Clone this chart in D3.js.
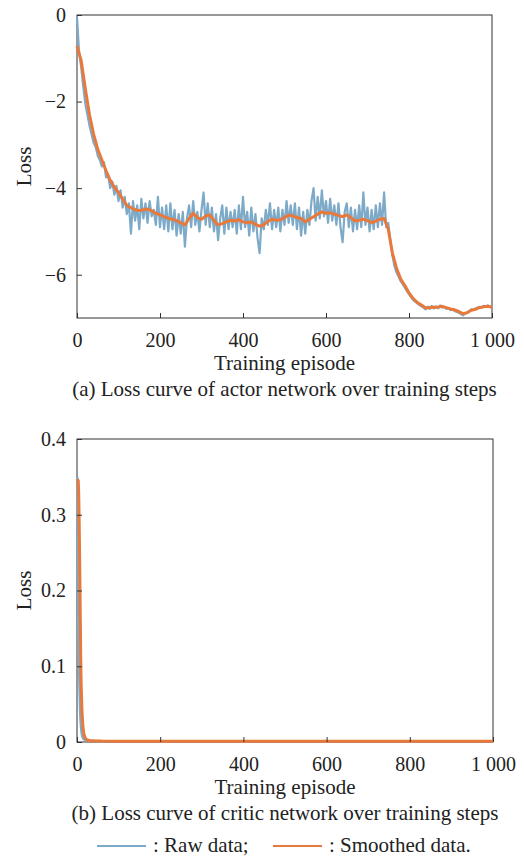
<!DOCTYPE html>
<html>
<head>
<meta charset="utf-8">
<script src="https://cdn.jsdelivr.net/npm/d3@7"></script>
<style>
  body { margin: 0; background: #fff; }
  svg { display: block; font-family: "Liberation Serif", "Times New Roman", serif; }
  .axis text { font-size: 20px; fill: #222; }
  .axis path { display: none; }
  .axis line { stroke: #333; stroke-width: 1; }
</style>
</head>
<body>
<div id="chart"></div>
<script>
// Actor network loss, sampled every 5 episodes
const actorEpisodes = d3.range(0, 1001, 5);
const actorRaw = [
  -0.05, -0.85, -1.20, -1.65, -2.05, -2.30, -2.55, -2.75, -2.95, -3.05,
  -3.25, -3.35, -3.50, -3.40, -3.75, -3.70, -4.00, -3.85, -4.15, -3.95,
  -4.30, -4.05, -4.45, -4.20, -4.60, -4.35, -5.05, -4.30, -4.75, -4.40,
  -4.95, -4.25, -4.70, -4.35, -4.80, -4.30, -4.65, -4.50, -4.85, -4.20,
  -4.90, -4.45, -4.95, -4.40, -5.00, -4.35, -4.95, -4.50, -5.10, -4.60,
  -5.05, -4.55, -5.35, -4.70, -4.40, -4.90, -4.30, -4.85, -4.55, -5.00,
  -4.50, -4.10, -4.85, -4.35, -4.90, -4.45, -5.00, -4.60, -5.20, -4.70,
  -4.40, -5.05, -4.45, -4.95, -4.55, -4.90, -4.50, -5.05, -4.40, -4.95,
  -4.20, -4.90, -4.55, -5.10, -4.45, -5.00, -4.60, -5.15, -5.50, -4.70,
  -4.95, -4.50, -4.85, -4.35, -4.95, -4.50, -4.90, -4.45, -5.00, -4.50,
  -4.85, -4.30, -4.80, -4.40, -4.85, -4.35, -4.95, -4.45, -5.10, -4.55,
  -5.05, -4.50, -4.85, -4.30, -4.00, -4.75, -4.20, -4.70, -4.05, -4.65,
  -4.30, -4.80, -4.25, -4.75, -4.40, -4.85, -4.35, -4.90, -5.25, -4.55,
  -4.35, -4.90, -4.45, -5.00, -4.50, -4.95, -4.40, -4.90, -4.10, -4.85,
  -4.45, -5.00, -4.50, -4.95, -4.40, -4.90, -4.35, -4.85, -4.10, -4.90,
  -4.80, -5.20, -5.55, -5.80, -5.95, -6.05, -6.15, -6.22, -6.30, -6.38,
  -6.45, -6.52, -6.58, -6.62, -6.66, -6.70, -6.73, -6.76, -6.80, -6.74,
  -6.79, -6.72, -6.78, -6.73, -6.77, -6.71, -6.76, -6.74, -6.79, -6.77,
  -6.82, -6.80, -6.84, -6.86, -6.88, -6.91, -6.94, -6.90, -6.87, -6.84,
  -6.80, -6.82, -6.78, -6.76, -6.74, -6.76, -6.72, -6.74, -6.71, -6.74,
  -6.72
];

// Smoothed actor loss, every 10 episodes
const actorSmoothEpisodes = d3.range(0, 1001, 10);
const actorSmooth = [
  -0.72, -1.05, -1.70, -2.30, -2.75, -3.10, -3.35, -3.60, -3.82, -3.98,
  -4.10, -4.25, -4.40, -4.45, -4.50, -4.52, -4.50, -4.48, -4.52, -4.58,
  -4.62, -4.66, -4.70, -4.72, -4.75, -4.80, -4.85, -4.70, -4.58, -4.68,
  -4.72, -4.64, -4.62, -4.75, -4.85, -4.82, -4.78, -4.74, -4.76, -4.73,
  -4.78, -4.80, -4.78, -4.84, -4.88, -4.85, -4.76, -4.72, -4.74, -4.73,
  -4.68, -4.62, -4.64, -4.68, -4.70, -4.78, -4.72, -4.66, -4.60, -4.55,
  -4.58, -4.57, -4.60, -4.63, -4.66, -4.62, -4.68, -4.76, -4.74, -4.72,
  -4.75, -4.80, -4.76, -4.72, -4.70, -4.95, -5.50, -5.85, -6.10, -6.25,
  -6.42, -6.55, -6.64, -6.70, -6.77, -6.76, -6.75, -6.75, -6.73, -6.76,
  -6.79, -6.81, -6.85, -6.90, -6.88, -6.82, -6.80, -6.76, -6.74, -6.73,
  -6.75
];

// Critic network loss
const criticRawEpisodes = [1, 2, 3, 4, 5, 6, 7, 8, 10, 12, 15, 20, 25, 30, 40,
  60, 100, 150, 200, 250, 300, 350, 400, 450, 500, 550, 600, 650, 700, 750, 800, 850, 900, 950, 1000];
const criticRaw = [0.35, 0.20, 0.15, 0.12, 0.09, 0.065, 0.045, 0.03, 0.015, 0.008, 0.004, 0.002, 0.0018, 0.0015, 0.0014,
  0.0012, 0.0011, 0.0012, 0.0010, 0.0011, 0.0010, 0.0012, 0.0010, 0.0011, 0.0010, 0.0011, 0.0010, 0.0011, 0.0010, 0.0011, 0.0010, 0.0011, 0.0010, 0.0011, 0.0010];

const criticSmoothEpisodes = [1, 3, 4, 5, 6, 7, 8, 9, 10, 12, 14, 16, 19, 23, 30, 40,
  60, 100, 200, 300, 400, 500, 600, 700, 800, 900, 1000];
const criticSmooth = [0.347, 0.345, 0.33, 0.30, 0.26, 0.21, 0.16, 0.11, 0.075, 0.04, 0.022, 0.012, 0.006, 0.003, 0.002, 0.0015,
  0.0012, 0.0011, 0.0011, 0.0011, 0.0011, 0.0011, 0.0011, 0.0011, 0.0011, 0.0011, 0.0011];

const xTicks = [0, 200, 400, 600, 800, 1000];
const actorYTicks = [0, -2, -4, -6];
const criticYTicks = [0, 0.1, 0.2, 0.3, 0.4];

const rawColor = "#7eaac9";
const smoothColor = "#e8793a";
const serif = "'Liberation Serif', 'Times New Roman', serif";

const width = 524;
const height = 857;

const svg = d3.select("#chart")
              .append("svg")
              .attr("width", width)
              .attr("height", height);

const xFormat = d => d === 1000 ? "1 000" : String(d);

function drawPanel(opts) {
    const x = d3.scaleLinear().domain([0, 1000]).range([opts.left, opts.right]);
    const y = d3.scaleLinear().domain(opts.yDomain).range([opts.bottom, opts.top]);

    // frame
    svg.append("rect")
       .attr("x", opts.left)
       .attr("y", opts.top)
       .attr("width", opts.right - opts.left)
       .attr("height", opts.bottom - opts.top)
       .style("fill", "none")
       .style("stroke", "#333")
       .style("stroke-width", 1);

    const line = (xs, ys) => d3.line()
        .x((d, i) => x(xs[i]))
        .y(d => y(d))(ys);

    svg.append("path")
       .attr("d", line(opts.rawX, opts.rawY))
       .style("fill", "none")
       .style("stroke", rawColor)
       .style("stroke-width", 2.2)
       .style("stroke-linejoin", "round");

    svg.append("path")
       .attr("d", line(opts.smoothX, opts.smoothY))
       .style("fill", "none")
       .style("stroke", smoothColor)
       .style("stroke-width", 3)
       .style("stroke-linejoin", "round");

    svg.append("g")
       .attr("class", "axis")
       .attr("transform", `translate(0, ${opts.bottom})`)
       .call(d3.axisBottom(x).tickValues(xTicks).tickFormat(xFormat)
               .tickSizeInner(-5).tickSizeOuter(0).tickPadding(15))
       .attr("font-family", serif)
       .attr("font-size", 20);

    svg.append("g")
       .attr("class", "axis")
       .attr("transform", `translate(${opts.left}, 0)`)
       .call(d3.axisLeft(y).tickValues(opts.yTicks).tickFormat(opts.yFormat)
               .tickSizeInner(-5).tickSizeOuter(0).tickPadding(11))
       .attr("font-family", serif)
       .attr("font-size", 20);

    const cx = (opts.left + opts.right) / 2;

    svg.append("text")
       .attr("x", cx)
       .attr("y", opts.bottom + 52)
       .attr("text-anchor", "middle")
       .style("font-family", serif)
       .style("font-size", "21px")
       .style("fill", "#222")
       .text("Training episode");

    svg.append("text")
       .attr("x", cx)
       .attr("y", opts.bottom + 78)
       .attr("text-anchor", "middle")
       .style("font-family", serif)
       .style("font-size", "21px")
       .style("fill", "#222")
       .text(opts.caption);

    svg.append("text")
       .attr("transform", `translate(31, ${(opts.top + opts.bottom) / 2}) rotate(-90)`)
       .attr("text-anchor", "middle")
       .style("font-family", serif)
       .style("font-size", "21px")
       .style("fill", "#222")
       .text("Loss");
}

drawPanel({
    left: 77, right: 492, top: 15, bottom: 318,
    yDomain: [-7, 0],
    yTicks: actorYTicks,
    yFormat: d3.format("d"),
    rawX: actorEpisodes, rawY: actorRaw,
    smoothX: actorSmoothEpisodes, smoothY: actorSmooth,
    caption: "(a) Loss curve of actor network over training steps"
});

drawPanel({
    left: 77, right: 493, top: 439, bottom: 742,
    yDomain: [0, 0.4],
    yTicks: criticYTicks,
    yFormat: d => d === 0 ? "0" : d3.format(".1f")(d),
    rawX: criticRawEpisodes, rawY: criticRaw,
    smoothX: criticSmoothEpisodes, smoothY: criticSmooth,
    caption: "(b) Loss curve of critic network over training steps"
});

// Legend
const legend = svg.append("g").attr("transform", "translate(0, 846)");
const legendItems = [
    { color: rawColor, x: 97, label: ": Raw data;" },
    { color: smoothColor, x: 273, label: ": Smoothed data." }
];
legendItems.forEach(d => {
    legend.append("line")
          .attr("x1", d.x).attr("x2", d.x + 49)
          .attr("y1", 0).attr("y2", 0)
          .style("stroke", d.color)
          .style("stroke-width", 2);
    legend.append("text")
          .attr("x", d.x + 56)
          .attr("y", 6)
          .style("font-family", serif)
          .style("font-size", "21px")
          .style("fill", "#222")
          .text(d.label);
});
</script>
</body>
</html>
